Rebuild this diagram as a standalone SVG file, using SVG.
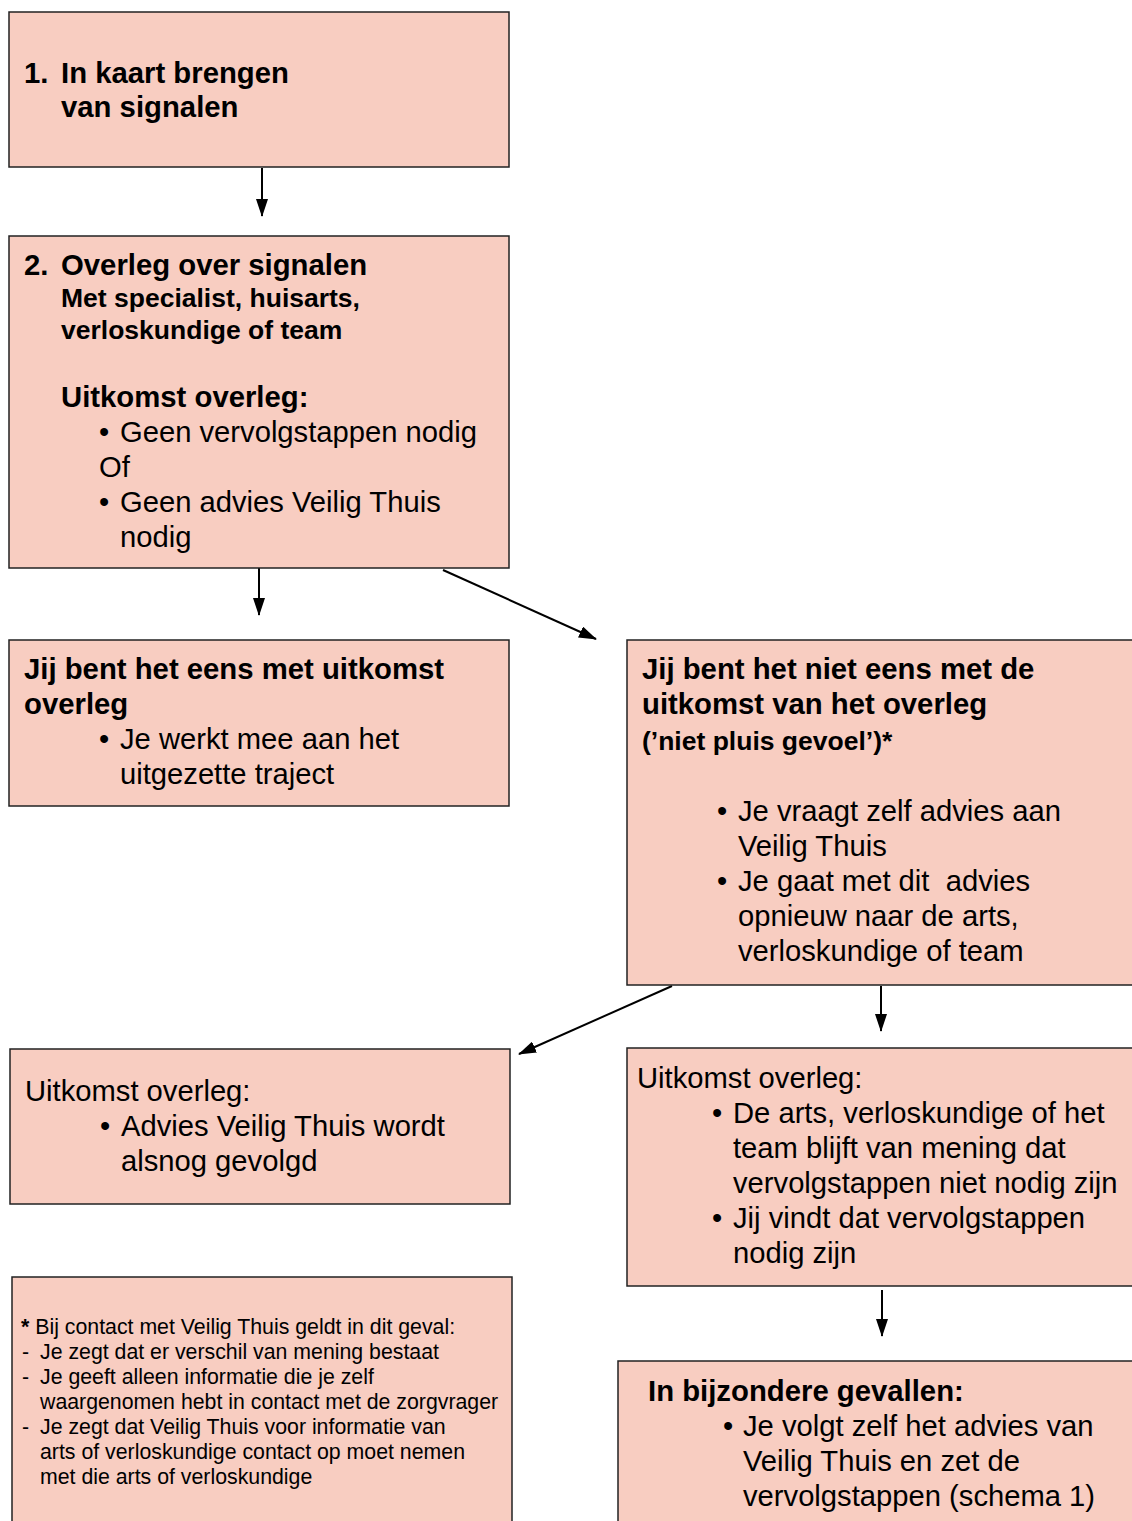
<svg xmlns="http://www.w3.org/2000/svg" width="1132" height="1521" viewBox="0 0 1132 1521">
<defs>
<style>
.box{fill:#F8CDC1;stroke:#222;stroke-width:1.5}
text{font-family:"Liberation Sans",Arial,sans-serif;fill:#000}
.h{font-size:29.3px;font-weight:bold}
.s{font-size:26.5px;font-weight:bold}
.r{font-size:29.2px}
.f{font-size:21.3px}
.con{stroke:#000;stroke-width:2;fill:none;marker-end:url(#ah)}
</style>
<marker id="ah" viewBox="0 0 18 12" refX="17" refY="6" markerWidth="18" markerHeight="12" markerUnits="userSpaceOnUse" orient="auto">
<path d="M0,0 L18,6 L0,12 z" fill="#000"/>
</marker>
</defs>
<rect width="1132" height="1521" fill="#fff"/>

<g id="connectors">
<path class="con" d="M262,168 L262,216"/>
<path class="con" d="M259,568 L259,615"/>
<path class="con" d="M443,570 L596,639"/>
<path class="con" d="M672,986 L519,1054"/>
<path class="con" d="M881,986 L881,1031"/>
<path class="con" d="M882,1290 L882,1336"/>
</g>

<g id="node1">
<rect class="box" x="9" y="12" width="500" height="155"/>
<text class="h" x="24" y="83">1.</text>
<text class="h" x="61" y="83">In kaart brengen</text>
<text class="h" x="61" y="117">van signalen</text>
</g>

<g id="node2">
<rect class="box" x="9" y="236" width="500" height="332"/>
<text class="h" x="24" y="275">2.</text>
<text class="h" x="61" y="275">Overleg over signalen</text>
<text class="s" x="61" y="307">Met specialist, huisarts,</text>
<text class="s" x="61" y="339">verloskundige of team</text>
<text class="h" x="61" y="407">Uitkomst overleg:</text>
<text class="r" x="99" y="442">•</text>
<text class="r" x="120" y="442">Geen vervolgstappen nodig</text>
<text class="r" x="99" y="477">Of</text>
<text class="r" x="99" y="512">•</text>
<text class="r" x="120" y="512">Geen advies Veilig Thuis</text>
<text class="r" x="120" y="547">nodig</text>
</g>

<g id="node3">
<rect class="box" x="9" y="640" width="500" height="166"/>
<text class="h" x="24" y="679">Jij bent het eens met uitkomst</text>
<text class="h" x="24" y="714">overleg</text>
<text class="r" x="99" y="749">•</text>
<text class="r" x="120" y="749">Je werkt mee aan het</text>
<text class="r" x="120" y="784">uitgezette traject</text>
</g>

<g id="node4">
<rect class="box" x="627" y="640" width="515" height="345"/>
<text class="h" x="642" y="679">Jij bent het niet eens met de</text>
<text class="h" x="642" y="714">uitkomst van het overleg</text>
<text class="s" x="642" y="750">(’niet pluis gevoel’)*</text>
<text class="r" x="717" y="821">•</text>
<text class="r" x="738" y="821">Je vraagt zelf advies aan</text>
<text class="r" x="738" y="856">Veilig Thuis</text>
<text class="r" x="717" y="891">•</text>
<text class="r" x="738" y="891" xml:space="preserve">Je gaat met dit  advies</text>
<text class="r" x="738" y="926">opnieuw naar de arts,</text>
<text class="r" x="738" y="961">verloskundige of team</text>
</g>

<g id="node5">
<rect class="box" x="10" y="1049" width="500" height="155"/>
<text class="r" x="25" y="1101">Uitkomst overleg:</text>
<text class="r" x="100" y="1136">•</text>
<text class="r" x="121" y="1136">Advies Veilig Thuis wordt</text>
<text class="r" x="121" y="1171">alsnog gevolgd</text>
</g>

<g id="node6">
<rect class="box" x="627" y="1048" width="515" height="238"/>
<text class="r" x="637" y="1088">Uitkomst overleg:</text>
<text class="r" x="712" y="1123">•</text>
<text class="r" x="733" y="1123">De arts, verloskundige of het</text>
<text class="r" x="733" y="1158">team blijft van mening dat</text>
<text class="r" x="733" y="1193">vervolgstappen niet nodig zijn</text>
<text class="r" x="712" y="1228">•</text>
<text class="r" x="733" y="1228">Jij vindt dat vervolgstappen</text>
<text class="r" x="733" y="1263">nodig zijn</text>
</g>

<g id="node7">
<rect class="box" x="12" y="1277" width="500" height="260"/>
<text class="f" x="21" y="1334"><tspan font-weight="bold">*</tspan> Bij contact met Veilig Thuis geldt in dit geval:</text>
<text class="f" x="22" y="1359">-</text>
<text class="f" x="40" y="1359">Je zegt dat er verschil van mening bestaat</text>
<text class="f" x="22" y="1384">-</text>
<text class="f" x="40" y="1384">Je geeft alleen informatie die je zelf</text>
<text class="f" x="40" y="1409">waargenomen hebt in contact met de zorgvrager</text>
<text class="f" x="22" y="1434">-</text>
<text class="f" x="40" y="1434">Je zegt dat Veilig Thuis voor informatie van</text>
<text class="f" x="40" y="1459">arts of verloskundige contact op moet nemen</text>
<text class="f" x="40" y="1484">met die arts of verloskundige</text>
</g>

<g id="node8">
<rect class="box" x="618" y="1361" width="524" height="180"/>
<text class="h" x="648" y="1401">In bijzondere gevallen:</text>
<text class="r" x="723" y="1436">•</text>
<text class="r" x="743" y="1436">Je volgt zelf het advies van</text>
<text class="r" x="743" y="1471">Veilig Thuis en zet de</text>
<text class="r" x="743" y="1506">vervolgstappen (schema 1)</text>
</g>
</svg>
